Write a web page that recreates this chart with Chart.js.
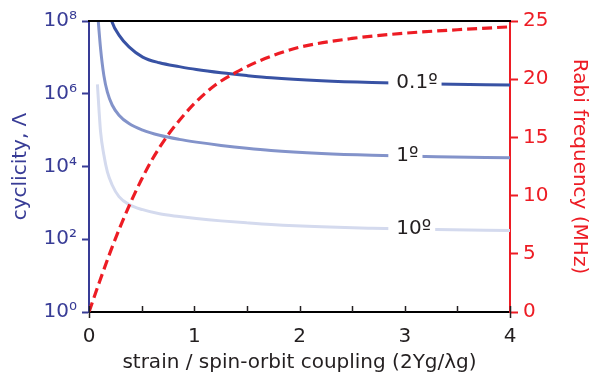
<!DOCTYPE html>
<html><head><meta charset="utf-8">
<script src="https://cdn.jsdelivr.net/npm/chart.js@4.4.1/dist/chart.umd.min.js"></script>
<style>html,body{margin:0;padding:0;background:#fff}</style>
</head><body>
<canvas id="c" width="592" height="377"></canvas>
<script>
// ---- data ----
const strainX01 = [0.2, 0.22, 0.285, 0.38, 0.51, 0.67, 0.857, 1.02, 1.255, 1.5, 1.73, 2.21, 2.69, 3.3, 4.0];
const cyclicity01deg = [1.58e8, 9.3e7, 4.1e7, 1.95e7, 1.02e7, 7.1e6, 5.56e6, 4.62e6, 3.76e6, 3.16e6, 2.75e6, 2.29e6, 2.04e6, 1.86e6, 1.74e6];
const strainX1 = [0.085, 0.088, 0.11, 0.141, 0.174, 0.22, 0.285, 0.38, 0.51, 0.67, 0.857, 1.02, 1.255, 1.5, 1.73, 2.21, 2.69, 3.3, 4.0];
const cyclicity1deg = [1.32e8, 1.0e8, 1.74e7, 3.2e6, 1.12e6, 4.9e5, 2.57e5, 1.51e5, 1.0e5, 7.2e4, 5.56e4, 4.68e4, 3.8e4, 3.16e4, 2.75e4, 2.29e4, 2.04e4, 1.86e4, 1.74e4];
const strainX10 = [0.08, 0.094, 0.11, 0.141, 0.174, 0.22, 0.285, 0.38, 0.51, 0.67, 0.857, 1.02, 1.255, 1.5, 1.73, 2.21, 2.69, 3.3, 4.0];
const cyclicity10deg = [1.82e6, 4.0e5, 8.9e4, 2.1e4, 7.2e3, 3.1e3, 1.48e3, 900, 650, 500, 422, 372, 320, 282, 254, 219, 200, 184, 174];
const rabiX   = [0, 0.1, 0.2, 0.3, 0.4, 0.5, 0.6, 0.75, 0.9, 1.0, 1.2, 1.4, 1.6, 1.8, 2.0, 2.5, 3.0, 3.5, 4.0];
const rabiMHz = [0, 2.6, 5.1, 7.4, 9.5, 11.4, 13.1, 15.2, 16.9, 17.9, 19.5, 20.6, 21.5, 22.2, 22.75, 23.5, 23.95, 24.25, 24.5];
const seriesLabels = ['0.1º', '1º', '10º'];
const yTickValues = [1, 1e2, 1e4, 1e6, 1e8];
const yTickLabels = ['10⁰', '10²', '10⁴', '10⁶', '10⁸'];
const xTickValues = [0, 1, 2, 3, 4];
const xMinorTicks = [0, 0.5, 1, 1.5, 2, 2.5, 3, 3.5, 4];
const rabiTickValues = [0, 5, 10, 15, 20, 25];

// ---- styles ----
const NAVY = '#383c96';
const RED = '#ed1c24';
const INK = '#231f20';
const BLUES = ['#3852a4', '#8393ca', '#d4daee'];
const FONT = "'DejaVu Sans', sans-serif";
Chart.defaults.font.family = FONT;
Chart.defaults.font.size = 20;

const pts = (xs, ys) => xs.map((x, i) => ({x, y: ys[i]}));
const cycSeries = [[strainX01, cyclicity01deg], [strainX1, cyclicity1deg], [strainX10, cyclicity10deg]];

function interpLog(xs, ys, x) {
  for (let i = 0; i < xs.length - 1; i++) {
    if (x >= xs[i] && x <= xs[i + 1]) {
      const t = (x - xs[i]) / (xs[i + 1] - xs[i]);
      return Math.pow(10, Math.log10(ys[i]) * (1 - t) + Math.log10(ys[i + 1]) * t);
    }
  }
  return ys[ys.length - 1];
}

const decor = {
  id: 'decor',
  afterDatasetsDraw(chart) {
    const {ctx, chartArea: a, scales} = chart;
    const xs = scales.x, ys = scales.y;
    ctx.save();
    // top frame line
    ctx.strokeStyle = '#000'; ctx.lineWidth = 2;
    ctx.beginPath(); ctx.moveTo(a.left - 1, a.top); ctx.lineTo(a.right + 1, a.top); ctx.stroke();
    // inward x ticks
    ctx.strokeStyle = INK; ctx.lineWidth = 1.5;
    xMinorTicks.forEach(v => {
      const px = Math.round(xs.getPixelForValue(v)) + 0.5;
      ctx.beginPath(); ctx.moveTo(px, a.bottom); ctx.lineTo(px, a.bottom - 6); ctx.stroke();
    });
    [0, 4].forEach(v => {
      const px = Math.round(xs.getPixelForValue(v)) + 0.5;
      ctx.beginPath(); ctx.moveTo(px, a.bottom); ctx.lineTo(px, a.bottom + 6); ctx.stroke();
    });
    // inline series labels
    const labelAt = 2.92;
    ctx.font = '20px ' + FONT;
    ctx.textBaseline = 'middle';
    seriesLabels.forEach((t, i) => {
      const v = interpLog(cycSeries[i][0], cycSeries[i][1], labelAt);
      const px = xs.getPixelForValue(labelAt);
      const py = ys.getPixelForValue(v);
      const w = ctx.measureText(t).width;
      ctx.fillStyle = '#fff';
      ctx.fillRect(px - 8, py - 6, w + 12, 12);
      ctx.fillStyle = INK;
      ctx.fillText(t, px, py);
    });
    ctx.restore();
  }
};

new Chart(document.getElementById('c'), {
  type: 'line',
  data: {
    datasets: [
      {label: 'Rabi frequency', data: pts(rabiX, rabiMHz), yAxisID: 'y2', borderColor: RED, borderWidth: 3.2, borderDash: [10, 5], pointRadius: 0, cubicInterpolationMode: 'monotone', fill: false},
      {label: seriesLabels[0], data: pts(strainX01, cyclicity01deg), yAxisID: 'y', borderColor: BLUES[0], borderWidth: 3, pointRadius: 0, cubicInterpolationMode: 'monotone', fill: false},
      {label: seriesLabels[1], data: pts(strainX1, cyclicity1deg), yAxisID: 'y', borderColor: BLUES[1], borderWidth: 3, pointRadius: 0, cubicInterpolationMode: 'monotone', fill: false},
      {label: seriesLabels[2], data: pts(strainX10, cyclicity10deg), yAxisID: 'y', borderColor: BLUES[2], borderWidth: 3, pointRadius: 0, cubicInterpolationMode: 'monotone', fill: false}
    ]
  },
  options: {
    responsive: false,
    animation: false,
    devicePixelRatio: 1,
    layout: {padding: {top: 21, left: 0, right: 0, bottom: 0}},
    plugins: {legend: {display: false}, tooltip: {enabled: false}},
    scales: {
      x: {
        type: 'linear', position: 'bottom', min: 0, max: 4,
        afterBuildTicks: s => { s.ticks = xTickValues.map(v => ({value: v})); },
        afterFit: s => { s.height = 65; },
        grid: {display: false, drawTicks: false},
        border: {display: true, color: '#000', width: 2},
        ticks: {color: INK, padding: 13, font: {size: 20}, callback: v => String(v)},
        title: {display: true, text: 'strain / spin-orbit coupling (2Υg/λg)', color: INK, font: {size: 20}, padding: {top: 0, bottom: 2}}
      },
      y: {
        type: 'logarithmic', position: 'left', min: 1, max: 1e8,
        afterBuildTicks: s => { s.ticks = yTickValues.map(v => ({value: v})); },
        afterFit: s => { s.width = 89; },
        grid: {drawOnChartArea: false, drawTicks: true, tickLength: 7, color: NAVY, tickWidth: 2},
        border: {display: true, color: NAVY, width: 2},
        ticks: {color: NAVY, padding: 5, font: {size: 20}, callback: v => yTickLabels[yTickValues.indexOf(v)]},
        title: {display: true, text: 'cyclicity, Λ', color: NAVY, font: {size: 20}, padding: {top: 9, bottom: 0}}
      },
      y2: {
        type: 'linear', position: 'right', min: 0, max: 25,
        afterBuildTicks: s => { s.ticks = rabiTickValues.map(v => ({value: v})); },
        afterFit: s => { s.width = 82; },
        grid: {drawOnChartArea: false, drawTicks: true, tickLength: 8, color: RED, tickWidth: 2},
        border: {display: true, color: RED, width: 2},
        ticks: {color: RED, padding: 5, font: {size: 20}},
        title: {display: true, text: 'Rabi frequency (MHz)', color: RED, font: {size: 20}, padding: {top: 1, bottom: 0}}
      }
    }
  },
  plugins: [decor]
});
</script>
</body></html>
